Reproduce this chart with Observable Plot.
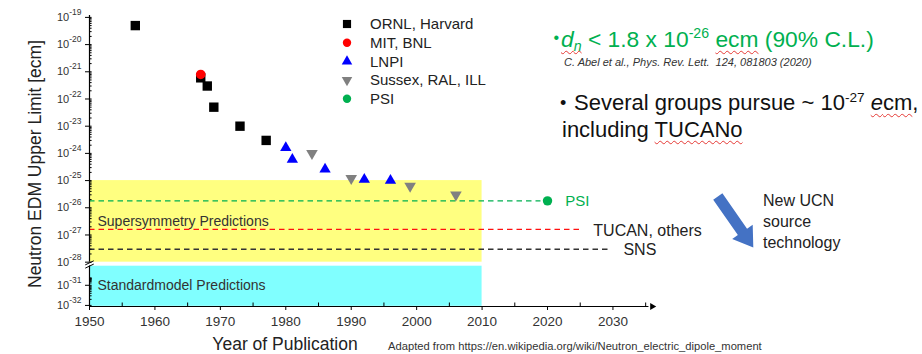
<!DOCTYPE html>
<html><head><meta charset="utf-8">
<script src="https://cdn.jsdelivr.net/npm/d3@7"></script>
<script src="https://cdn.jsdelivr.net/npm/@observablehq/plot@0.6"></script>
<style>
body{margin:0;background:#fff;font-family:"Liberation Sans",Arial,sans-serif;}
#wrap{position:relative;width:922px;height:354px;overflow:hidden;background:#fff}
#wrap svg.chart{position:absolute;left:0;top:0}
.ov{position:absolute;white-space:nowrap;}
.wavy{text-decoration:underline wavy #e53935;text-decoration-thickness:1px;text-underline-offset:3px;text-decoration-skip-ink:none}
sup,sub{font-size:0.62em;line-height:0;position:relative;vertical-align:baseline}
sup{top:-0.62em}
sub{top:0.32em}
</style></head><body><div id="wrap"></div>
<script>
// ---- data ----
const ornlYear = [1957, 1967, 1968, 1969, 1973, 1977];
const ornlLimit = [5e-20, 6e-22, 3e-22, 5e-23, 1e-23, 3e-24];
const mitYear = [1967];
const mitLimit = [8e-22];
const lnpiYear = [1980, 1981, 1986, 1992, 1996];
const lnpiLimit = [1.6e-24, 6e-25, 2.6e-25, 1.1e-25, 1e-25];
const sussexYear = [1984, 1990, 1999, 2006];
const sussexLimit = [1e-24, 1.2e-25, 6.3e-26, 3e-26];
const psiYear = [2020];
const psiLimit = [1.8e-26];

const groupNames = ["ORNL, Harvard", "MIT, BNL", "LNPI", "Sussex, RAL, ILL", "PSI"];
const groupColors = ["#000000", "#ff0000", "#0000ff", "#808080", "#00b050"];

const bandNames = ["Supersymmetry Predictions", "Standardmodel Predictions"];
const bandLow = [1e-28, 9e-33];
const bandHigh = [1e-25, 3e-29];
const bandStart = [1950, 1950];
const bandEnd = [2010, 2010];
const bandLabelAt = [3.2e-27, 1e-31];
const bandColors = ["#ffff80", "#80ffff"];

const projNames = ["PSI", "TUCAN, others", "SNS"];
const projLimit = [1.8e-26, 1.6e-27, 3e-28];
const projEnd = [2019, 2025, 2029.5];
const projLabelYear = [2022.7, 2027, 2031.6];
const projColors = ["#00b050", "#ff1010", "#333333"];

const yTickExp = [-19, -20, -21, -22, -23, -24, -25, -26, -27, -28, -31, -32];
const xTickYears = [1950, 1960, 1970, 1980, 1990, 2000, 2010, 2020, 2030];
const xMinorYears = [1955, 1965, 1975, 1985, 1995, 2005, 2015, 2025, 2035];

// ---- broken log axis helpers ----
const posE = e => e >= -28 ? e : e >= -31 ? -28 + (e + 28) * 0.85 / 3 : -28.85 + (e + 31) * 0.74;
const brk = v => posE(Math.log10(v));
const yTop = -18.93, yBottom = -29.63;
const yTicks = yTickExp.map(posE);
const yMinor = [];
for (let e = -32; e <= -20; e++) {
  if (e >= -30 && e <= -29) continue;
  for (let k = 2; k <= 9; k++) yMinor.push(posE(e + Math.log10(k)));
}
const yInner = yMinor.concat(yTicks);
const pxPerYear = 562.4 / 86, pxPerDecade = 291 / (yTop - yBottom);

const downTriangle = {draw(ctx, size) {
  const y = -Math.sqrt(size / (Math.sqrt(3) * 3));
  ctx.moveTo(0, -2 * y);
  ctx.lineTo(-Math.sqrt(3) * y, y);
  ctx.lineTo(Math.sqrt(3) * y, y);
  ctx.closePath();
}};
const groupSymbols = ["square", "circle", "triangle", downTriangle, "circle"];
const groupR = [5.3, 4.8, 4.2, 4.3, 4.7];
const legendR = [4.6, 4.2, 3.9, 3.9, 4.2];

const toRows = (years, limits) => years.map((year, i) => ({year, limit: limits[i]}));
const groupData = [toRows(ornlYear, ornlLimit), toRows(mitYear, mitLimit), toRows(lnpiYear, lnpiLimit),
                   toRows(sussexYear, sussexLimit), toRows(psiYear, psiLimit)];
const bands = bandNames.map((name, i) => ({name, low: bandLow[i], high: bandHigh[i], start: bandStart[i], end: bandEnd[i], labelAt: bandLabelAt[i], color: bandColors[i]}));
const projs = projNames.map((name, i) => ({name, limit: projLimit[i], end: projEnd[i], labelYear: projLabelYear[i], color: projColors[i]}));

const dotMarks = [0, 2, 3, 1, 4].map(g => Plot.dot(groupData[g], {
  x: "year", y: d => brk(d.limit), symbol: groupSymbols[g], r: groupR[g], fill: groupColors[g], stroke: "none"
}));

const chart = Plot.plot({
  width: 922, height: 354,
  marginLeft: 89, marginRight: 270.3, marginTop: 15, marginBottom: 48,
  style: {fontFamily: "'Liberation Sans', Arial, sans-serif", background: "transparent", overflow: "visible"},
  x: {domain: [1950, 2036], label: null},
  y: {domain: [yBottom, yTop], label: null},
  color: {type: "identity"},
  marks: [
    Plot.rect(bands, {x1: "start", x2: "end", y1: d => brk(d.low), y2: d => brk(d.high), fill: "color"}),
    Plot.ruleY(projs, {y: d => brk(d.limit), x1: 1950, x2: "end", stroke: "color", strokeWidth: 1.4, strokeDasharray: "5.5,4"}),
    Plot.text(bands, {x: "start", y: d => brk(d.labelAt), text: "name", dx: 8, textAnchor: "start", fontSize: 14, fill: "#333"}),
    Plot.text(projs.filter(d => d.name === "PSI"), {x: "labelYear", y: d => brk(d.limit), text: "name", textAnchor: "start", fontSize: 15, fill: "#00b050"}),
    Plot.text(projs.filter(d => d.name !== "PSI"), {x: "labelYear", y: d => brk(d.limit), text: "name", textAnchor: "start", fontSize: 16, fill: "#222", dy: 1}),
    // axis lines
    Plot.ruleX([1950], {y1: -28.0, y2: yTop, stroke: "black", strokeWidth: 1.2}),
    Plot.ruleX([1950], {y1: yBottom, y2: -28.14, stroke: "black", strokeWidth: 1.2}),
    Plot.link([{x1: 1949.35, y1: -28.1, x2: 1950.65, y2: -27.95}, {x1: 1949.35, y1: -28.22, x2: 1950.65, y2: -28.07}],
      {x1: "x1", y1: "y1", x2: "x2", y2: "y2", stroke: "black", strokeWidth: 1}),
    Plot.ruleY([yBottom], {x1: 1950, x2: 2035.5, stroke: "black", strokeWidth: 1.2}),
    Plot.dot([2036], {x: d => d, y: yBottom, symbol: "triangle", rotate: 90, r: 2.6, fill: "black"}),
    // inner (minor) ticks
    Plot.ruleY(yInner, {y: d => d, x1: 1950, x2: 1950 + 2.6 / pxPerYear, stroke: "black", strokeWidth: 1}),
    Plot.ruleX(xMinorYears, {x: d => d, y1: yBottom, y2: yBottom + 3.5 / pxPerDecade, stroke: "black", strokeWidth: 1}),
    Plot.axisY(yTicks, {anchor: "left", tickSize: 4, tickPadding: 4, fontSize: 11, fill: "#333", stroke: "black",
      tickFormat: u => "10^" + yTickExp[yTicks.indexOf(u)]}),
    Plot.axisX(xTickYears, {anchor: "bottom", tickSize: 4, tickPadding: 6, fontSize: 13.5, fill: "#333", stroke: "black",
      tickFormat: d => String(d)}),
    ...dotMarks
  ]
});
chart.classList.add("chart");
const wrap = document.getElementById("wrap");
wrap.appendChild(chart);

// superscript exponents on y tick labels
d3.select(chart).selectAll('g[aria-label="y-axis tick label"] text').each(function() {
  const t = this.textContent;
  if (!t.includes("^")) return;
  const [base, exp] = t.split("^");
  this.textContent = "";
  d3.select(this).append("tspan").text(base);
  d3.select(this).append("tspan").attr("dy", -6).attr("font-size", 8.5).text(exp);
});

// ---- overlays (legend, annotations, labels) ----
const legendSvg = d3.select(wrap).append("svg").attr("class", "ov").attr("width", 922).attr("height", 354)
  .style("left", "0px").style("top", "0px");
groupNames.forEach((name, i) => {
  const cy = 24 + i * 18.7;
  legendSvg.append("path")
    .attr("transform", `translate(347,${cy})`)
    .attr("d", d3.symbol().type(typeof groupSymbols[i] === "string" ?
      {square: d3.symbolSquare, circle: d3.symbolCircle, triangle: d3.symbolTriangle}[groupSymbols[i]] : groupSymbols[i])
      .size(Math.PI * legendR[i] * legendR[i])())
    .attr("fill", groupColors[i]);
  legendSvg.append("text").attr("x", 370).attr("y", cy).attr("dy", "0.35em")
    .attr("font-size", 15).attr("fill", "#222").attr("font-family", "'Liberation Sans', Arial, sans-serif").text(name);
});

// blue block arrow
(function() {
  const S = [717.8, 196.5], T = [753.3, 247.5];
  const dx = T[0] - S[0], dy = T[1] - S[1], L = Math.hypot(dx, dy);
  const u = [dx / L, dy / L], n = [-u[1], u[0]];
  const hw = 5.6, hh = 12.5, hl = 19;
  const B = [T[0] - u[0] * hl, T[1] - u[1] * hl];
  const p = (c, s) => [c[0] + n[0] * s, c[1] + n[1] * s];
  const pts = [p(S, hw), p(B, hw), p(B, hh), T, p(B, -hh), p(B, -hw), p(S, -hw)];
  legendSvg.append("polygon").attr("points", pts.map(q => q.join(",")).join(" ")).attr("fill", "#4472c4");
})();

const html = `
<div class="ov" style="left:553.5px;top:30px;font-size:16px;line-height:16px;color:#00b050">•</div>
<div class="ov" style="left:561px;top:27.7px;font-size:22.8px;line-height:22.8px;color:#00b050"><i class="wavy">d<sub>n</sub></i> &lt; 1.8 x 10<sup>-26</sup> <span class="wavy">ecm</span> (90% C.L.)</div>
<div class="ov" style="left:564px;top:56.8px;font-size:11px;line-height:11px;color:#333;font-style:italic">C. Abel et al., Phys. Rev. Lett.&nbsp; 124, 081803 (2020)</div>
<div class="ov" style="left:560px;top:94px;font-size:18px;line-height:18px;color:#111">•</div>
<div class="ov" style="left:574px;top:92.4px;font-size:22px;line-height:22px;color:#111">Several groups pursue ~ 10<sup>-27</sup> <span class="wavy"><i>e</i>cm</span>,</div>
<div class="ov" style="left:562px;top:118.9px;font-size:22px;line-height:22px;color:#111">including <span class="wavy">TUCANo</span></div>
<div class="ov" style="left:763px;top:189.7px;font-size:16px;line-height:21px;color:#222">New UCN<br>source<br>technology</div>
<div class="ov" style="left:285px;top:336px;font-size:17.5px;line-height:17.5px;color:#222;transform:translateX(-50%)">Year of Publication</div>
<div class="ov" style="left:388px;top:340px;font-size:11.2px;line-height:12px;color:#333">Adapted from https://en.wikipedia.org/wiki/Neutron_electric_dipole_moment</div>
<div class="ov" style="left:35px;top:164px;font-size:17.5px;line-height:18px;color:#222;transform:translate(-50%,-50%) rotate(-90deg)">Neutron EDM Upper Limit [ecm]</div>
`;
wrap.insertAdjacentHTML("beforeend", html);
</script>
</body></html>
